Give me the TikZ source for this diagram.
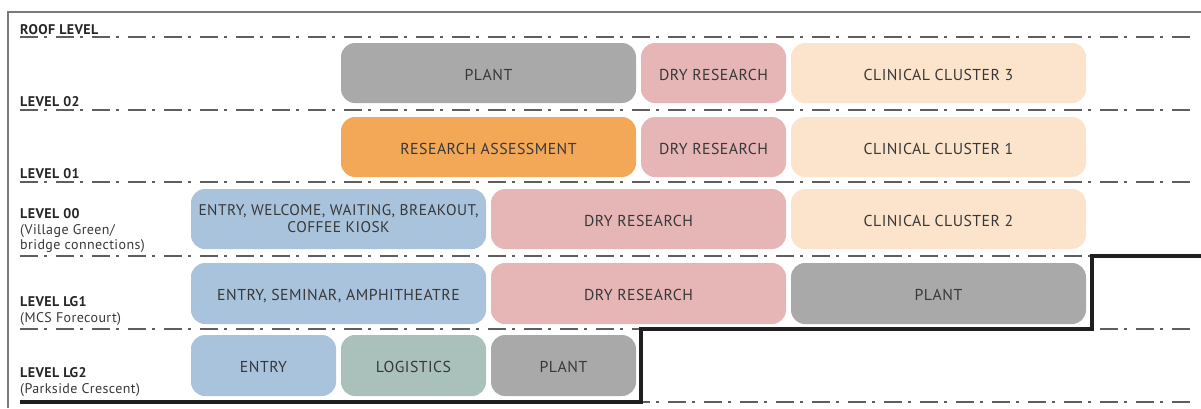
\documentclass[tikz,border=0pt]{standalone}
\usepackage{fontspec}
\setmainfont[LetterSpace=3]{PT Sans}
\usetikzlibrary{positioning}

\definecolor{plantgrey}{HTML}{A9A9A9}
\definecolor{dryred}{HTML}{E6B5B6}
\definecolor{clinicpeach}{HTML}{FCE3CB}
\definecolor{assessorange}{HTML}{F2A857}
\definecolor{entryblue}{HTML}{A9C3DD}
\definecolor{logisticsgreen}{HTML}{A9C0BB}
\definecolor{inkgrey}{HTML}{383838}
\definecolor{dashgrey}{HTML}{5E5E5E}
\definecolor{framegrey}{HTML}{7A7A7A}

\begin{document}
\begin{tikzpicture}[x=1pt, y=-1pt,
    zone/.style={rounded corners=14pt, minimum height=60pt, inner sep=0pt, align=center,
                 text=inkgrey, font=\fontsize{15.8}{17}\selectfont},
    oneline/.style={text height=14pt, text depth=0pt},
    wide/.style={zone, oneline, minimum width=295pt},
    narrow/.style={zone, oneline, minimum width=145pt},
    levelline/.style={draw=dashgrey, line width=1.6pt, dash pattern=on 18pt off 6pt on 3pt off 9pt},
    levelname/.style={anchor=base west, inner sep=0pt, text=black!85, font=\bfseries\fontsize{14}{15}\selectfont},
    levelnote/.style={anchor=base west, inner sep=0pt, text=inkgrey, font=\fontsize{14}{15}\selectfont},
    groundline/.style={draw=black!88, line width=3.2pt}]

  \useasboundingbox (0,0) rectangle (1201,408);

  % frame
  \draw[framegrey, line width=1.8pt] (8,408) -- (8,12) -- (1201,12);

  % floor lines
  \foreach \y in {37,110,182,256,329,402}
    \draw[levelline] (20,\y) -- (1195,\y);

  % level names
  \node[levelname] (roof) at (20,34) {ROOF LEVEL};
  \node[levelname] (l02) at (20,106) {LEVEL 02};
  \node[levelname] (l01) at (20,178) {LEVEL 01};
  \node[levelname] (l00) at (20,218) {LEVEL 00};
  \node[levelnote] (l00a) at (20,234) {(Village Green/};
  \node[levelnote] (l00b) at (20,249) {bridge connections)};
  \node[levelname] (lg1) at (20,306) {LEVEL LG1};
  \node[levelnote] (lg1a) at (20,322) {(MCS Forecourt)};
  \node[levelname] (lg2) at (20,377) {LEVEL LG2};
  \node[levelnote] (lg2a) at (20,393) {(Parkside Crescent)};

  % level 02
  \node[wide, fill=plantgrey] (plant2) at (488.5,73) {PLANT};
  \node[narrow, fill=dryred] (dry2) at (713.5,73) {DRY RESEARCH};
  \node[wide, fill=clinicpeach] (clin3) at (938.5,73) {CLINICAL CLUSTER 3};

  % level 01
  \node[wide, fill=assessorange] (assess) at (488.5,147) {RESEARCH ASSESSMENT};
  \node[narrow, fill=dryred] (dry1) at (713.5,147) {DRY RESEARCH};
  \node[wide, fill=clinicpeach] (clin1) at (938.5,147) {CLINICAL CLUSTER 1};

  % level 00
  \node[zone, minimum width=295pt, fill=entryblue, font=\fontsize{15.4}{17}\selectfont]
    (welcome) at (338.5,219) {\rule{0pt}{3pt}ENTRY, WELCOME, WAITING, BREAKOUT,\\COFFEE KIOSK};
  \node[wide, fill=dryred] (dry0) at (638.5,219) {DRY RESEARCH};
  \node[wide, fill=clinicpeach] (clin2) at (938.5,219) {CLINICAL CLUSTER 2};

  % level LG1
  \node[wide, fill=entryblue, minimum height=61pt] (seminar) at (338.5,293.5) {ENTRY, SEMINAR, AMPHITHEATRE};
  \node[wide, fill=dryred, minimum height=61pt] (drylg1) at (638.5,293.5) {DRY RESEARCH};
  \node[wide, fill=plantgrey, minimum height=61pt] (plantlg1) at (938.5,293.5) {PLANT};

  % level LG2
  \node[narrow, fill=entryblue, minimum height=61pt] (entry) at (263.5,365.5) {ENTRY};
  \node[narrow, fill=logisticsgreen, minimum height=61pt] (logistics) at (413.5,365.5) {LOGISTICS};
  \node[narrow, fill=plantgrey, minimum height=61pt] (plantlg2) at (563.5,365.5) {PLANT};

  % ground
  \draw[groundline] (20,402) -| (641,329) -| (1092,256) -- (1201,256);
\end{tikzpicture}
\end{document}
